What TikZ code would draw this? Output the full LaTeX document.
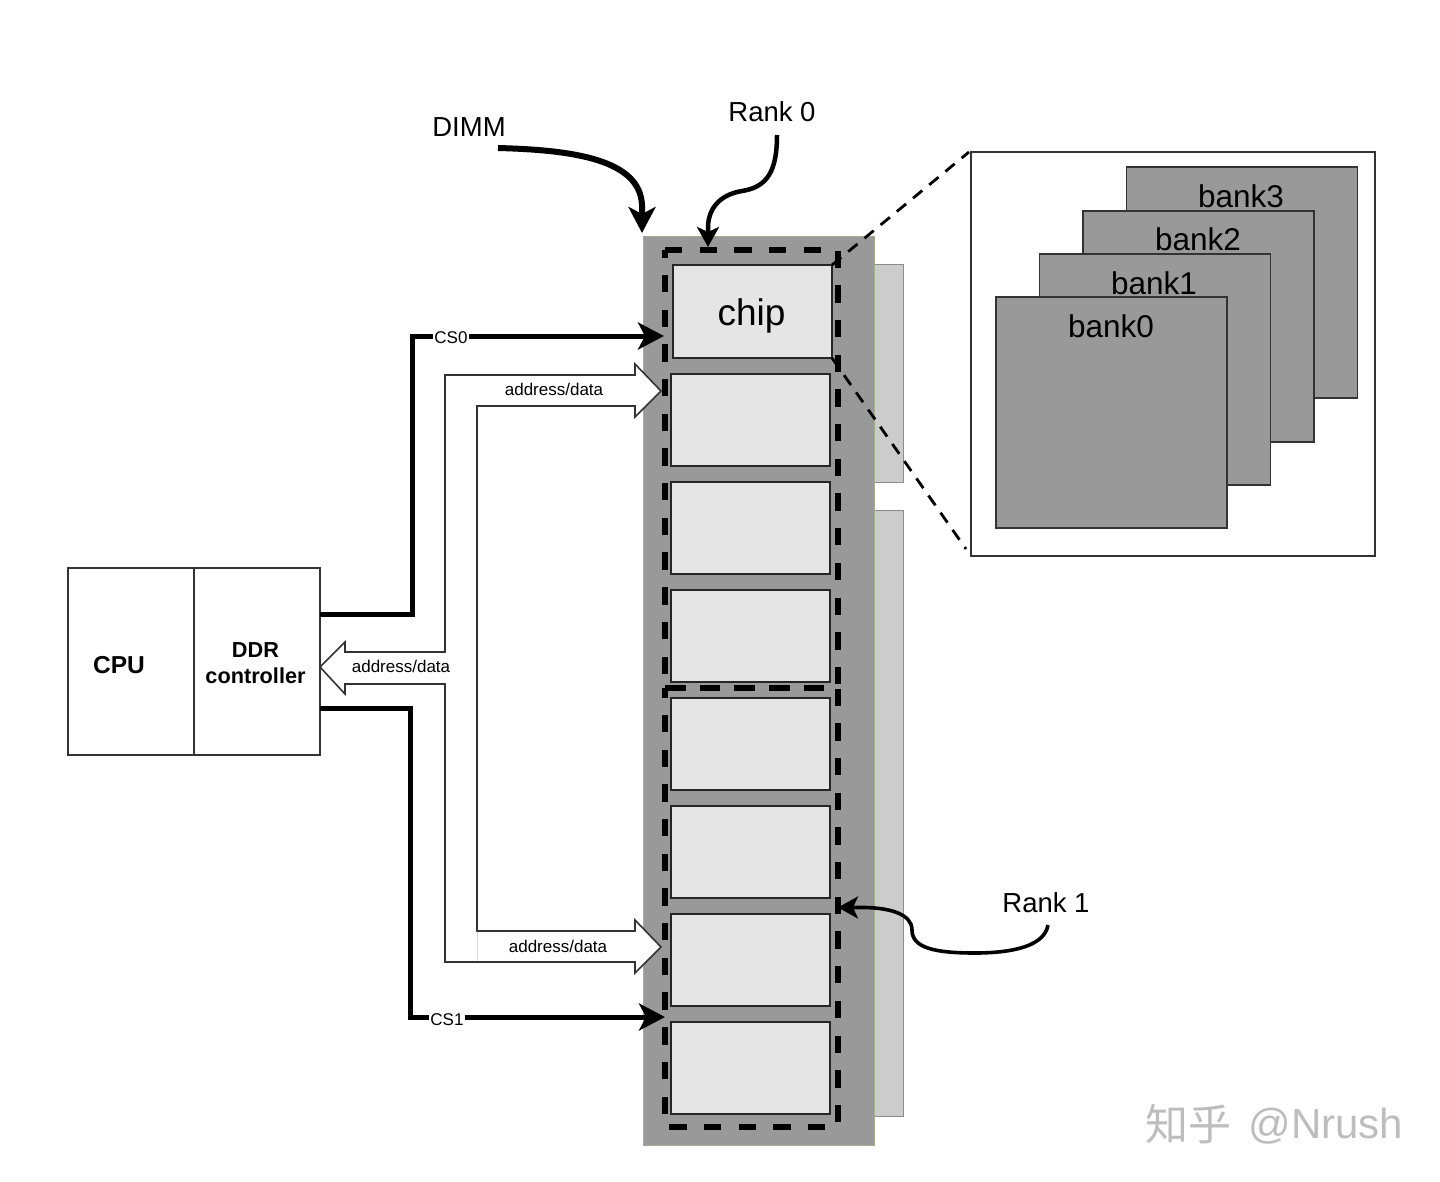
\documentclass[tikz,border=0pt]{standalone}
\usepackage{fontspec}
\setmainfont{Liberation Sans}
\newfontfamily\cjk{Noto Sans CJK SC}
\usetikzlibrary{arrows.meta}
\definecolor{dimmedge}{RGB}{160,175,140}

\begin{document}
\begin{tikzpicture}[x=1pt,y=-1pt,
  box/.style={draw=black!80,line width=1.4pt,fill=white,inner sep=0pt,outer sep=0pt},
  chipbox/.style={box,draw=black!85,line width=2pt,fill=black!10,minimum width=159pt,minimum height=92pt},
  sidebox/.style={box,draw=black!45,line width=1pt,fill=black!20,minimum width=29pt},
  rankbox/.style={inner sep=0pt,outer sep=0pt,minimum width=173pt},
  rankline/.style={draw=black,line width=5.5pt,dash pattern=on 17.35pt off 17.35pt},
  bankbox/.style={box,fill=black!40,minimum width=231pt,minimum height=231pt},
  biglabel/.style={font=\fontsize{27.5}{30}\selectfont,inner sep=0pt},
  banklabel/.style={font=\fontsize{31.5}{34}\selectfont,inner sep=0pt},
  smalllabel/.style={font=\fontsize{17}{19}\selectfont,inner sep=1pt},
  wire/.style={line width=5pt,-{Stealth[length=26pt,width=27pt,inset=7pt]}},
  pointer/.style={line width=4.5pt,-{Stealth[length=20pt,width=22pt,inset=5pt]}},
  zoomline/.style={line width=2.8pt,dash pattern=on 12pt off 9pt}]
\useasboundingbox (0,0) rectangle (1440,1181);

\node[sidebox,minimum height=218pt] (side0) at (888.5,373) {};
\node[sidebox,minimum height=606pt] (side1) at (888.5,813) {};
\node[box,draw=dimmedge,line width=1pt,fill=black!40,minimum width=231pt,minimum height=909pt] (dimm) at (758.5,690.5) {};

\node[chipbox,minimum height=93pt] (chip0) at (752.5,311.5) {};
\node[chipbox] (chip1) at (750.5,420) {};
\node[chipbox] (chip2) at (750.5,528) {};
\node[chipbox] (chip3) at (750.5,636) {};
\node[chipbox] (chip4) at (750.5,744) {};
\node[chipbox] (chip5) at (750.5,852) {};
\node[chipbox] (chip6) at (750.5,960) {};
\node[chipbox] (chip7) at (750.5,1068) {};
\node[font=\fontsize{37}{40}\selectfont,inner sep=0pt] (chiptext) at (751.5,316) {chip};

\node[rankbox,minimum height=438pt] (rank0) at (751.5,469) {};
\node[rankbox,minimum height=439pt] (rank1) at (751.5,907.5) {};
\draw[rankline] (rank0.north west) -- (rank0.north east) -- (rank0.south east) -- (rank0.south west) -- cycle;
\draw[rankline] (rank1.north west) -- (rank1.north east) -- (rank1.south east) -- (rank1.south west) -- cycle;

\node[box,minimum width=404pt,minimum height=404pt] (inset) at (1173,354) {};
\node[bankbox] (bank3) at (1242,282.5) {};
\node[bankbox] (bank2) at (1198.5,326.5) {};
\node[bankbox] (bank1) at (1155,369.5) {};
\node[bankbox] (bank0) at (1111.5,412.5) {};
\node[banklabel] (bank3text) at (1241,196) {bank3};
\node[banklabel] (bank2text) at (1198,239) {bank2};
\node[banklabel] (bank1text) at (1154,283) {bank1};
\node[banklabel] (bank0text) at (1111,326) {bank0};

\coordinate (zoomto0) at (969,152);
\coordinate (zoomto1) at (966,549);
\draw[zoomline] (chip0.north east) -- (zoomto0);
\draw[zoomline] (chip0.south east) -- (zoomto1);

\node[box,minimum width=126pt,minimum height=187pt] (cpu) at (131,661.5) {};
\node[box,minimum width=126pt,minimum height=187pt] (ddr) at (257,661.5) {};
\node[font=\fontsize{24.5}{26}\selectfont\bfseries,inner sep=0pt] (cputext) at (119,665) {CPU};
\node[font=\fontsize{21.7}{26}\selectfont\bfseries,align=center,inner sep=0pt] (ddrtext) at (255.5,663) {DDR\hspace{5pt}\\controller};

\draw[box,line width=1.6pt,line join=miter]
  (445,652) -- (445,375) -- (635,375) -- (635,364) -- (661,391) -- (635,417) -- (635,406)
  -- (477,406) -- (477,931) -- (635,931) -- (635,920) -- (661,947) -- (635,973) -- (635,962)
  -- (445,962) -- (445,684) -- (345,684) -- (345,694) -- (320,667) -- (345,642) -- (345,652) -- cycle;
\draw[black!15,line width=1pt] (477,932) -- (477,961);
\node[smalllabel] (datatext0) at (554,389) {address/data};
\node[smalllabel] (datatext1) at (558,946) {address/data};
\node[smalllabel] (datatext2) at (401,666) {address/data};

\coordinate (cs0from) at (320,614);
\coordinate (cs0to) at (664,336);
\coordinate (cs1from) at (320,708);
\coordinate (cs1to) at (665,1017);
\draw[wire] (cs0from) -- (412,614) -- (412,336) -- (cs0to);
\draw[wire] (cs1from) -- (410,708) -- (410,1017) -- (cs1to);
\node[smalllabel,fill=white] (cs0text) at (451,338) {CS0};
\node[smalllabel,fill=white] (cs1text) at (447,1020) {CS1};

\node[biglabel] (dimmtext) at (469,127) {DIMM};
\node[biglabel] (rank0text) at (772,112) {Rank 0};
\node[biglabel] (rank1text) at (1046,903) {Rank 1};
\coordinate (dimmfrom) at (498,148);
\coordinate (dimmto) at (642,233);
\coordinate (rank0from) at (777,135);
\coordinate (rank0to) at (708,247);
\coordinate (rank1from) at (1048,925);
\draw[wire,line width=6pt] (dimmfrom) .. controls (575,150) and (640,160) .. (642,205) -- (dimmto);
\draw[pointer] (rank0from) .. controls (777,170) and (768,187) .. (742,191)
  .. controls (718,195) and (709,210) .. (708,225) -- (rank0to);
\draw[pointer,line width=3.6pt] (rank1from) .. controls (1044,950) and (1000,953) .. (975,953)
  .. controls (935,953) and (912,948) .. (912,930)
  .. controls (912,914) and (890,908) .. (865,907.5) -- (rank1.east);

\node[text=black!26,inner sep=0pt,font=\cjk\fontsize{43}{46}\selectfont] (mark0) at (1188,1124) {知乎};
\node[text=black!26,inner sep=0pt,font=\fontsize{42}{46}\selectfont] (mark1) at (1326,1126) {@Nrush};
\end{tikzpicture}
\end{document}
